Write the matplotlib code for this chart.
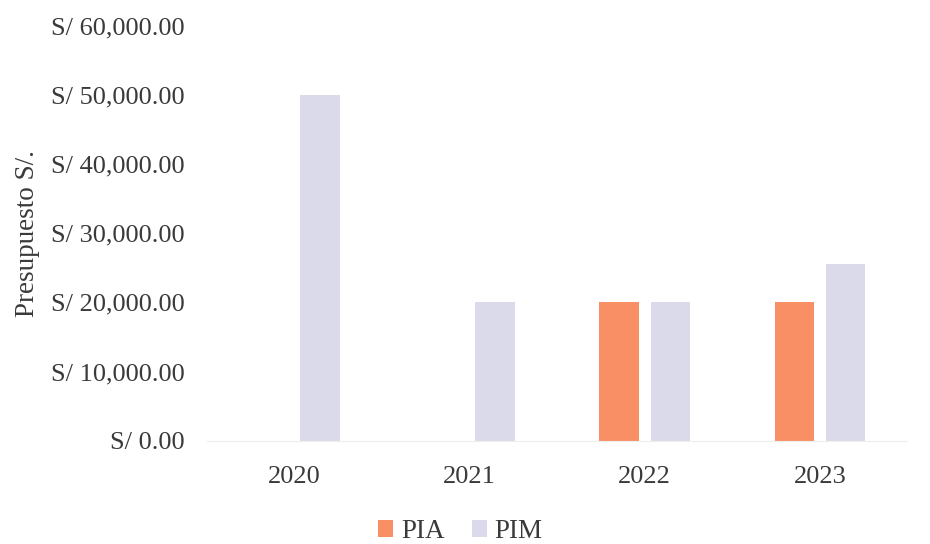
import matplotlib
matplotlib.use("Agg")
import matplotlib.pyplot as plt
import numpy as np
from matplotlib.ticker import FuncFormatter

years = ["2020", "2021", "2022", "2023"]
pia = [0, 0, 20000, 20000]
pim = [50000, 20000, 20000, 25600]
series_names = ["PIA", "PIM"]
colors = ["#F98F65", "#DADAEA"]

plt.rcParams['font.family'] = ['Liberation Serif', 'DejaVu Serif']
fig = plt.figure(figsize=(9.3, 5.44), dpi=100)
ax = fig.add_axes([0.2226, 0.19, 0.753, 0.763])

x = np.arange(len(years))
w = 0.225
off = 0.146
ax.bar(x - off, pia, w, color=colors[0], label=series_names[0])
ax.bar(x + off, pim, w, color=colors[1], label=series_names[1])

ax.set_xlim(-0.5, len(years) - 0.5)
ax.set_ylim(0, 60000)
ax.set_yticks(np.arange(0, 60001, 10000))
ax.yaxis.set_major_formatter(FuncFormatter(lambda v, p: f"S/ {v:,.2f}"))
ax.set_xticks(x)
ax.set_xticklabels(years)
for s in ["top", "right", "left"]:
    ax.spines[s].set_visible(False)
ax.spines["bottom"].set_color("#EEEEEE")
ax.tick_params(axis="both", length=0, labelsize=19, colors="#3a3a3a")
ax.tick_params(axis="y", pad=16)
ax.tick_params(axis="x", pad=18)
ax.set_ylabel("Presupuesto S/.", fontsize=19.5, color="#3a3a3a", labelpad=8)

leg = fig.legend(loc="lower center", bbox_to_anchor=(0.495, -0.045), ncol=2, frameon=False,
                 fontsize=19.5, handlelength=0.55, handleheight=0.55, handletextpad=0.3,
                 columnspacing=1.0, labelcolor="#3a3a3a")
fig.savefig("out.png", dpi=100)
